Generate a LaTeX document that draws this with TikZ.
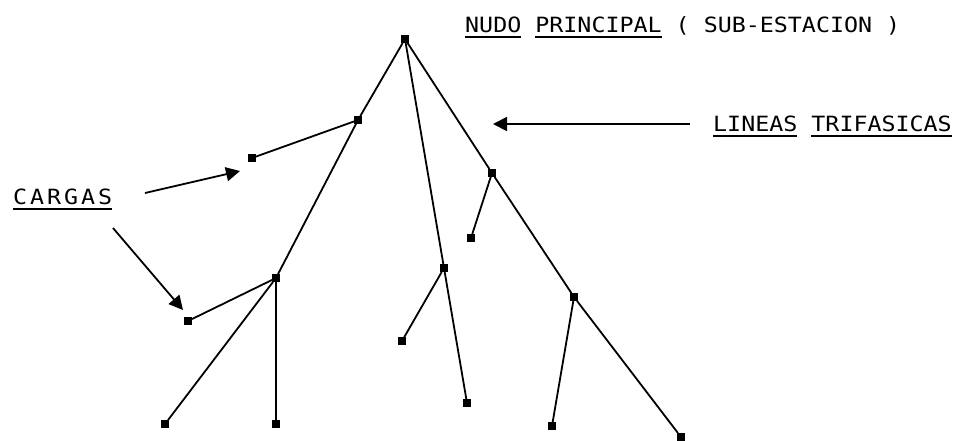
\documentclass[tikz,border=0pt]{standalone}
\usepackage{fontspec}
\usepackage{tikz}
\usetikzlibrary{arrows.meta, positioning}
\newfontfamily\pixfont[FakeStretch=1.11]{DejaVu Sans Mono}
\newfontfamily\pixwidefont[FakeStretch=1.11, LetterSpace=14]{DejaVu Sans Mono}
\newcommand{\wordline}[1]{\setbox0\hbox{#1}\rlap{\rule[-6pt]{\wd0}{2pt}}\box0\relax}

\begin{document}
\begin{tikzpicture}[
    x=1pt, y=-1pt,
    bus/.style={draw=none, fill=black, rectangle, minimum size=7.5pt, inner sep=0pt},
    feeder/.style={line width=1.8pt},
    pointer/.style={-{Triangle[length=14pt, width=14pt]}, line width=1.8pt},
    caption/.style={anchor=base west, inner sep=0pt, font=\pixfont\fontsize{21}{24}\selectfont},
  ]
  \useasboundingbox (0,0) rectangle (960,440);

  % Main node (substation)
  \node[bus] (S) at (405,39) {};

  % Branch nodes
  \node[bus] (A) at (358,120) {};
  \node[bus] (B) at (276,278) {};
  \node[bus] (C) at (444,268) {};
  \node[bus] (D) at (492,173) {};
  \node[bus] (E) at (574,297) {};

  % Loads
  \node[bus] (LA)  at (252,158) {};
  \node[bus] (LB1) at (188,321) {};
  \node[bus] (LB2) at (165,424) {};
  \node[bus] (LB3) at (276,424) {};
  \node[bus] (LC1) at (402,341) {};
  \node[bus] (LC2) at (467,403) {};
  \node[bus] (LD)  at (471,238) {};
  \node[bus] (LE1) at (552,426) {};
  \node[bus] (LE2) at (681,437) {};

  % Three-phase lines
  \draw[feeder] (S) -- (A);
  \draw[feeder] (A) -- (B);
  \draw[feeder] (A) -- (LA);
  \draw[feeder] (B) -- (LB1);
  \draw[feeder] (B) -- (LB2);
  \draw[feeder] (B) -- (LB3);
  \draw[feeder] (S) -- (C);
  \draw[feeder] (C) -- (LC1);
  \draw[feeder] (C) -- (LC2);
  \draw[feeder] (S) -- (D);
  \draw[feeder] (D) -- (LD);
  \draw[feeder] (D) -- (E);
  \draw[feeder] (E) -- (LE1);
  \draw[feeder] (E) -- (LE2);

  % Labels
  \node[caption] (nudo) at (465,32) {\wordline{NUDO} \wordline{PRINCIPAL} ( SUB-ESTACION )};
  \node[caption] (lineas) at (713,131) {\wordline{LINEAS} \wordline{TRIFASICAS}};
  \node[caption, font=\pixwidefont\fontsize{21}{24}\selectfont] (cargas) at (13,204) {\wordline{CARGAS}};

  % Pointers
  \coordinate (p1) at (690,124);
  \coordinate (t1) at (493,124);
  \coordinate (p2) at (145,193);
  \coordinate (t2) at (240,171);
  \coordinate (p3) at (113,228);
  \coordinate (t3) at (183,310);
  \draw[pointer] (p1) -- (t1);
  \draw[pointer] (p2) -- (t2);
  \draw[pointer] (p3) -- (t3);
\end{tikzpicture}
\end{document}
